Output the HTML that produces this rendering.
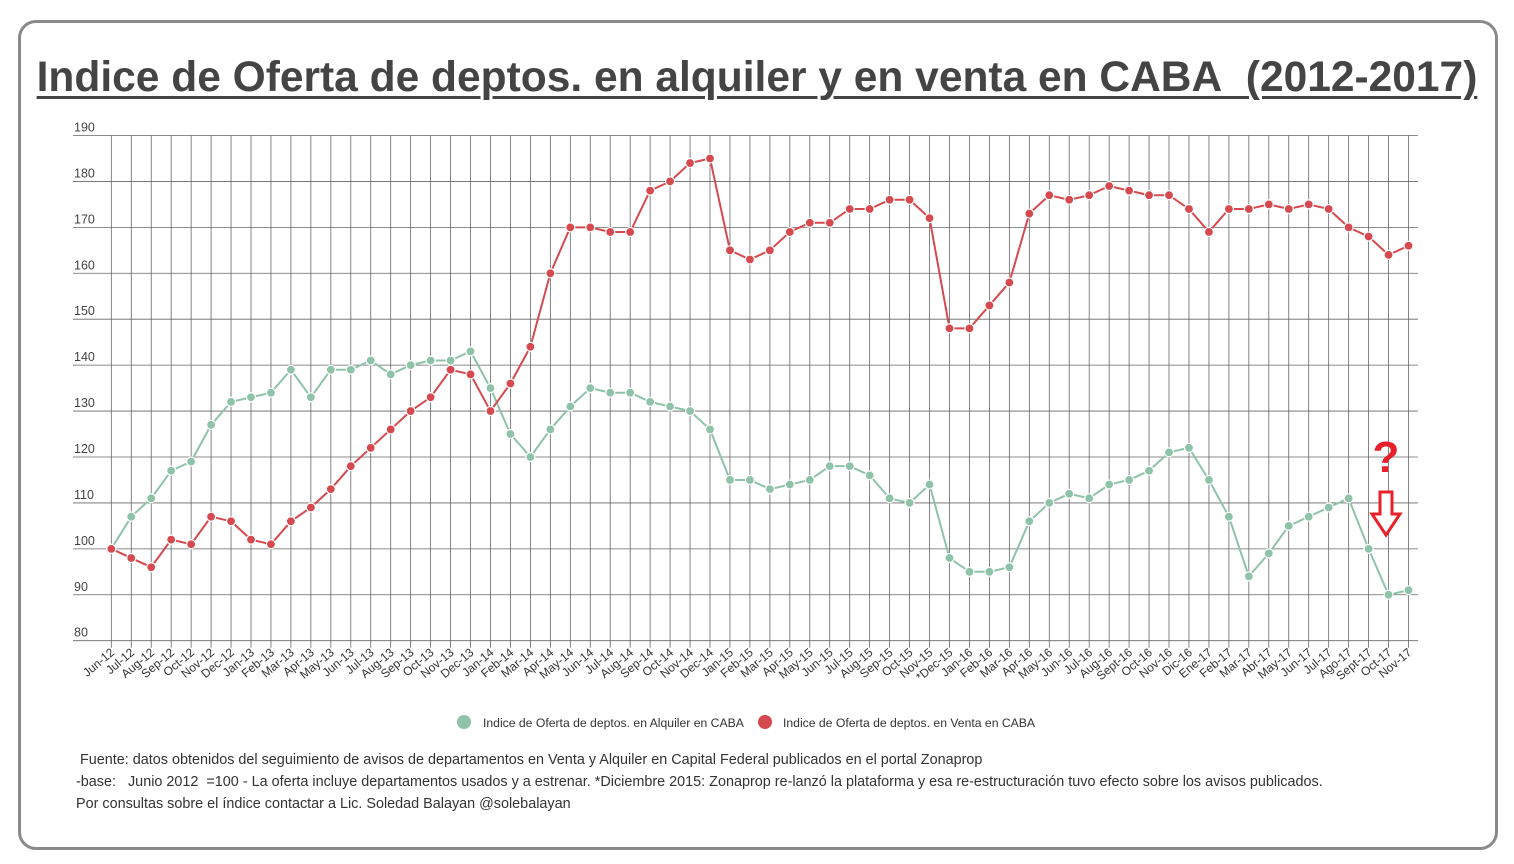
<!DOCTYPE html>
<html><head><meta charset="utf-8">
<style>
body{margin:0;width:1514px;height:864px;background:#fff;overflow:hidden;font-family:"Liberation Sans",sans-serif;}
#frame{position:absolute;left:18px;top:20px;width:1480px;height:830px;border:3px solid #8a8a8a;border-radius:18px;box-sizing:border-box;}
#title{position:absolute;left:0;width:1514px;top:54px;text-align:center;font-size:42.5px;font-weight:bold;color:#444;text-decoration:underline;text-decoration-thickness:3px;text-underline-offset:5px;}
.foot{position:absolute;left:76px;font-size:14.4px;color:#333;}
</style></head><body>
<div id="frame"></div>
<div id="title">Indice de Oferta de deptos. en alquiler y en venta en CABA&nbsp; (2012-2017)</div>
<svg id="chart" width="1514" height="864" style="position:absolute;left:0;top:0"></svg>
<div class="foot" style="top:752px;left:80px">Fuente: datos obtenidos del seguimiento de avisos de departamentos en Venta y Alquiler en Capital Federal publicados en el portal Zonaprop</div>
<div class="foot" style="top:774px">-base:&nbsp;&nbsp; Junio 2012&nbsp; =100 - La oferta incluye departamentos usados y a estrenar. *Diciembre 2015: Zonaprop re-lanzó la plataforma y esa re-estructuración tuvo efecto sobre los avisos publicados.</div>
<div class="foot" style="top:796px">Por consultas sobre el índice contactar a Lic. Soledad Balayan @solebalayan</div>
<script>
const categories=["Jun-12","Jul-12","Aug-12","Sep-12","Oct-12","Nov-12","Dec-12","Jan-13","Feb-13","Mar-13","Apr-13","May-13","Jun-13","Jul-13","Aug-13","Sep-13","Oct-13","Nov-13","Dec-13","Jan-14","Feb-14","Mar-14","Apr-14","May-14","Jun-14","Jul-14","Aug-14","Sep-14","Oct-14","Nov-14","Dec-14","Jan-15","Feb-15","Mar-15","Apr-15","May-15","Jun-15","Jul-15","Aug-15","Sep-15","Oct-15","Nov-15","*Dec-15","Jan-16","Feb-16","Mar-16","Apr-16","May-16","Jun-16","Jul-16","Aug-16","Sept-16","Oct-16","Nov-16","Dic-16","Ene-17","Feb-17","Mar-17","Abr-17","May-17","Jun-17","Jul-17","Ago-17","Sept-17","Oct-17","Nov-17"];
const alquiler=[100,107,111,117,119,127,132,133,134,139,133,139,139,141,138,140,141,141,143,135,125,120,126,131,135,134,134,132,131,130,126,115,115,113,114,115,118,118,116,111,110,114,98,95,95,96,106,110,112,111,114,115,117,121,122,115,107,94,99,105,107,109,111,100,90,91];
const venta=[100,98,96,102,101,107,106,102,101,106,109,113,118,122,126,130,133,139,138,130,136,144,160,170,170,169,169,178,180,184,185,165,163,165,169,171,171,174,174,176,176,172,148,148,153,158,173,177,176,177,179,178,177,177,174,169,174,174,175,174,175,174,170,168,164,166];
const yTicks=[80,90,100,110,120,130,140,150,160,170,180,190];
const svg=document.getElementById('chart');
const NS='http://www.w3.org/2000/svg';
const X0=111.3,X1=1408.5,Y80=640.7,Y190=135.5;
function xs(i){return X0+i*(X1-X0)/(categories.length-1);}
function ys(v){return Y80+(v-80)*(Y190-Y80)/110;}
function mk(t,a){const e=document.createElementNS(NS,t);for(const k in a)e.setAttribute(k,a[k]);svg.appendChild(e);return e;}
yTicks.forEach(v=>{
  const l=mk('line',{x1:73,x2:1418,y1:ys(v),y2:ys(v),stroke:'#666','stroke-width':0.8});
  
  
  const t=mk('text',{x:74,y:ys(v)-4,'font-size':12.5,fill:'#444'});
  t.textContent=v;
  
  
});
categories.forEach((c,i)=>{
  const x=xs(i);
  const l=mk('line',{x1:x,x2:x,y1:Y190,y2:Y80+7,stroke:'#666','stroke-width':0.8});
  
  
  const t=mk('text',{x:x+4,y:Y80+13,'font-size':12,fill:'#333','text-anchor':'end',transform:`rotate(-40 ${x+4} ${Y80+13})`});
  t.textContent=c;
  
  
});
function series(vals,color,name){
  const p=mk('polyline',{points:vals.map((v,i)=>xs(i)+','+ys(v)).join(' '),fill:'none',stroke:color,'stroke-width':2});
  
  
  vals.forEach((v,i)=>{
    const c=mk('circle',{cx:xs(i),cy:ys(v),r:4.5,fill:color,stroke:'#fff','stroke-width':1.2});
    
    
  });
}
series(alquiler,'#8fc3a9','alquiler');
series(venta,'#d5494f','venta');
const lg1=mk('circle',{cx:464,cy:722,r:7,fill:'#8fc3a9'});


const lt1=mk('text',{x:483,y:727,'font-size':12.2,fill:'#333'});
lt1.textContent='Indice de Oferta de deptos. en Alquiler en CABA';


const lg2=mk('circle',{cx:765,cy:722,r:7,fill:'#d5494f'});


const lt2=mk('text',{x:783,y:727,'font-size':12.2,fill:'#333'});
lt2.textContent='Indice de Oferta de deptos. en Venta en CABA';


const q=mk('text',{x:1386,y:472,'font-size':44,'font-weight':'bold',fill:'#e8202a','text-anchor':'middle'});
q.textContent='?';


const ar=mk('polygon',{points:'1380,492 1392,492 1392,514 1400,514 1386,535 1372,514 1380,514',fill:'#fff',stroke:'#e8202a','stroke-width':3});


</script>
</body></html>
